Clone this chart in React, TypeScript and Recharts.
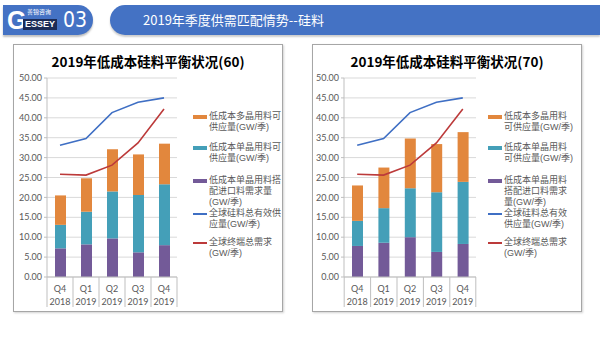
import { Bar, CartesianGrid, ComposedChart, Line, XAxis, YAxis } from 'recharts';

const quarters = ['Q4', 'Q1', 'Q2', 'Q3', 'Q4'];
const years = ['2018', '2019', '2019', '2019', '2019'];
const yTicks = [0, 5, 10, 15, 20, 25, 30, 35, 40, 45, 50];

// stacked bars, bottom to top: import-blend demand, mono supply, poly supply
const import60 = [7.2, 8.2, 9.7, 6.2, 8.0];
const mono60 = [5.9, 8.2, 11.8, 14.4, 15.3];
const poly60 = [7.4, 8.4, 10.6, 10.2, 10.2];

const import70 = [7.8, 8.6, 10.0, 6.3, 8.3];
const mono70 = [6.3, 8.7, 12.3, 15.0, 15.6];
const poly70 = [8.9, 10.2, 12.5, 12.1, 12.5];

const globalSupply = [33.1, 34.8, 41.3, 43.9, 45.0];
const globalDemand = [25.8, 25.6, 28.1, 33.7, 42.2];

const legend60 = [
    ['低成本多晶用料可', '供应量(GW/季)'],
    ['低成本单晶用料可', '供应量(GW/季)'],
    ['低成本单晶用料搭', '配进口料需求量', '(GW/季)'],
    ['全球硅料总有效供', '应量(GW/季)'],
    ['全球终端总需求', '(GW/季)'],
];
const legend70 = [
    ['低成本多晶用料', '可供应量(GW/季)'],
    ['低成本单晶用料', '可供应量(GW/季)'],
    ['低成本单晶用料', '搭配进口料需求', '量(GW/季)'],
    ['全球硅料总有效', '供应量(GW/季)'],
    ['全球终端总需求', '(GW/季)'],
];

const COLORS = {
    poly: '#E2873D',
    mono: '#449FB8',
    imp: '#735A98',
    supply: '#3F6FC4',
    demand: '#BC3A3A',
    grid: '#D9D9D9',
    axis: '#BFBFBF',
    text: '#595959',
    header: '#4472C4',
};
const legendColors = [COLORS.poly, COLORS.mono, COLORS.imp, COLORS.supply, COLORS.demand];
const legendIsLine = [false, false, false, true, true];
const legendTops = [66, 97, 130, 163, 192];

const CJK = '"Noto Sans CJK SC", "Noto Sans", sans-serif';
// latin primary font keeps the line box compact, CJK glyphs fall back
const LEGEND_FONT = '"Liberation Sans", "Noto Sans CJK SC", sans-serif';
const NUM = 'Lato, "Open Sans", sans-serif';

const BAND = 26;

function CategoryTick(props: any) {
    const { x, y, payload } = props;
    const i = payload.index;
    const last = i === quarters.length - 1;
    return (
        <g>
            <line x1={x - BAND / 2} x2={x - BAND / 2} y1={y} y2={y + 30} stroke={COLORS.axis} />
            {last && <line x1={x + BAND / 2} x2={x + BAND / 2} y1={y} y2={y + 30} stroke={COLORS.axis} />}
            <text x={x} y={y + 15} textAnchor="middle" fontSize={9} fill={COLORS.text} fontFamily={NUM}>
                {quarters[i]}
            </text>
            <text x={x} y={y + 28} textAnchor="middle" fontSize={9} fill={COLORS.text} fontFamily={NUM}>
                {years[i]}
            </text>
        </g>
    );
}

function BalancePanel({
    left,
    title,
    imp,
    mono,
    poly,
    legend,
    yWidth,
    legendX,
}: {
    left: number;
    title: string;
    imp: number[];
    mono: number[];
    poly: number[];
    legend: string[][];
    yWidth: number;
    legendX: number;
}) {
    const rows = quarters.map((q, i) => ({
        cat: `${q} ${years[i]}`,
        imp: imp[i],
        mono: mono[i],
        poly: poly[i],
        supply: globalSupply[i],
        demand: globalDemand[i],
    }));

    return (
        <div
            style={{
                position: 'absolute',
                left,
                top: 44,
                width: 270,
                height: 268,
                border: '1px solid #A6A6A6',
                boxSizing: 'border-box',
                background: '#fff',
                boxShadow: '1px 1px 2px rgba(0,0,0,0.18)',
            }}
        >
            <div
                style={{
                    position: 'absolute',
                    left: 0,
                    top: 8,
                    width: '100%',
                    textAlign: 'center',
                    fontFamily: CJK,
                    fontWeight: 'bold',
                    fontSize: 13.5,
                    lineHeight: '16px',
                    color: '#000',
                }}
            >
                {title}
            </div>
            <div style={{ position: 'absolute', left: 0, top: 0 }}>
                <ComposedChart width={268} height={266} data={rows} margin={{ top: 33, right: 105, left: 0, bottom: 0 }} barCategoryGap={0}>
                    <CartesianGrid stroke={COLORS.grid} vertical={false} />
                    <XAxis
                        dataKey="cat"
                        height={34}
                        tickSize={0}
                        tickMargin={0}
                        interval={0}
                        axisLine={{ stroke: COLORS.axis }}
                        tick={<CategoryTick />}
                    />
                    <YAxis
                        width={yWidth}
                        domain={[0, 50]}
                        ticks={yTicks}
                        interval={0}
                        tickFormatter={(v) => Number(v).toFixed(2)}
                        tick={{ fontSize: 9, fill: COLORS.text, fontFamily: NUM }}
                        axisLine={{ stroke: COLORS.axis }}
                        tickLine={{ stroke: COLORS.axis }}
                        tickSize={3}
                        tickMargin={2}
                    />
                    <Bar dataKey="imp" stackId="s" fill={COLORS.imp} barSize={11} isAnimationActive={false} />
                    <Bar dataKey="mono" stackId="s" fill={COLORS.mono} barSize={11} isAnimationActive={false} />
                    <Bar dataKey="poly" stackId="s" fill={COLORS.poly} barSize={11} isAnimationActive={false} />
                    <Line type="linear" dataKey="supply" stroke={COLORS.supply} strokeWidth={1.6} dot={false} isAnimationActive={false} />
                    <Line type="linear" dataKey="demand" stroke={COLORS.demand} strokeWidth={1.6} dot={false} isAnimationActive={false} />
                </ComposedChart>
            </div>
            {legend.map((lines, i) => (
                <div key={i} style={{ position: 'absolute', left: legendX, top: legendTops[i], display: 'flex', alignItems: 'flex-start' }}>
                    <span
                        style={{
                            display: 'inline-block',
                            width: 14,
                            height: legendIsLine[i] ? 2 : 4,
                            marginTop: legendIsLine[i] ? 4.5 : 3.5,
                            marginRight: 2,
                            background: legendColors[i],
                        }}
                    />
                    <div style={{ fontFamily: LEGEND_FONT, fontSize: 9, lineHeight: '11px', color: COLORS.text, whiteSpace: 'nowrap' }}>
                        {lines.map((t, j) => (
                            <div key={j}>{t}</div>
                        ))}
                    </div>
                </div>
            ))}
        </div>
    );
}

export default function App() {
    return (
        <div style={{ position: 'absolute', left: 0, top: 0, width: 600, height: 337, background: '#fff', overflow: 'hidden' }}>
            {/* logo */}
            <div style={{ position: 'absolute', left: 3, top: 5, width: 90, height: 30, background: COLORS.header, borderRadius: '0 15px 15px 0', boxShadow: '0 2px 2px rgba(0,0,0,0.25)' }} />
            <div style={{ position: 'absolute', left: 7, top: 6, color: '#fff', fontFamily: 'Arial, "Liberation Sans", sans-serif', fontWeight: 'bold', fontSize: 25, lineHeight: '28px' }}>G</div>
            <div style={{ position: 'absolute', left: 27, top: 8, color: '#fff', fontFamily: CJK, fontSize: 6, lineHeight: '8px' }}>善锦咨询</div>
            <div style={{ position: 'absolute', left: 23, top: 19, width: 34, height: 11, background: '#1B2B57', color: '#fff', fontFamily: '"Liberation Sans", Arial, sans-serif', fontWeight: 'bold', fontSize: 9, lineHeight: '11px', textAlign: 'center' }}>ESSEY</div>
            <div style={{ position: 'absolute', left: 63, top: 6, color: '#fff', fontFamily: '"Liberation Sans Narrow", "DejaVu Sans Condensed", sans-serif', fontSize: 21, lineHeight: '28px' }}>03</div>
            {/* title bar */}
            <div style={{ position: 'absolute', left: 110, top: 5, width: 490, height: 30, background: COLORS.header, borderRadius: '15px 0 0 15px', boxShadow: '0 2px 2px rgba(0,0,0,0.2)' }} />
            <div style={{ position: 'absolute', left: 143, top: 5, height: 30, lineHeight: '30px', color: '#fff', fontFamily: CJK, fontSize: 13 }}>
                2019年季度供需匹配情势--硅料
            </div>

            <BalancePanel left={13} title="2019年低成本硅料平衡状况(60)" imp={import60} mono={mono60} poly={poly60} legend={legend60} yWidth={33} legendX={179} />
            <BalancePanel left={312} title="2019年低成本硅料平衡状况(70)" imp={import70} mono={mono70} poly={poly70} legend={legend70} yWidth={31} legendX={175} />
        </div>
    );
}
